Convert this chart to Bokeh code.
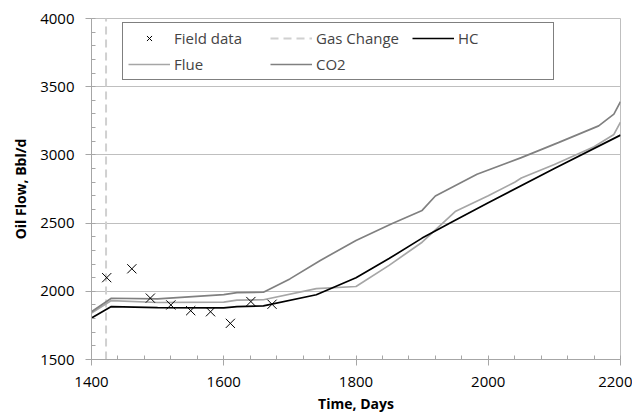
from bokeh.plotting import figure
from bokeh.models import Legend, LegendItem, SingleIntervalTicker
from bokeh.embed import file_html
from bokeh.resources import INLINE

field_x = [1423, 1461, 1489, 1520, 1550, 1580, 1610, 1641, 1673]
field_y = [2100, 2165, 1950, 1900, 1858, 1850, 1765, 1925, 1905]

hc_x = [1400, 1430, 1500, 1600, 1620, 1660, 1740, 1800, 1850, 1900, 1950, 2000, 2100, 2200]
hc_y = [1805, 1888, 1880, 1878, 1888, 1893, 1975, 2100, 2240, 2390, 2520, 2650, 2900, 3145]

flue_x = [1400, 1430, 1500, 1600, 1620, 1660, 1740, 1800, 1850, 1900, 1950, 2000, 2040, 2050, 2100, 2160, 2190, 2200]
flue_y = [1840, 1932, 1918, 1920, 1935, 1938, 2020, 2035, 2190, 2360, 2585, 2700, 2800, 2830, 2930, 3060, 3150, 3240]

co2_x = [1400, 1430, 1500, 1600, 1620, 1660, 1700, 1746, 1800, 1854, 1900, 1920, 1983, 2050, 2106, 2167, 2190, 2200]
co2_y = [1850, 1949, 1945, 1976, 1990, 1993, 2091, 2226, 2373, 2495, 2593, 2699, 2858, 2980, 3090, 3213, 3299, 3390]

gas_change_day = 1422

FONT = "Open Sans"

p = figure(width=632, height=415, x_range=(1400, 2200), y_range=(1500, 4000),
           output_backend="svg", toolbar_location=None,
           min_border_left=91, min_border_right=12, min_border_top=18, min_border_bottom=56)

p.outline_line_color = "#bfbfbf"
p.xgrid.grid_line_color = None
p.ygrid.grid_line_color = "#bfbfbf"

p.xaxis.ticker = SingleIntervalTicker(interval=200, num_minor_ticks=5)
p.yaxis.ticker = SingleIntervalTicker(interval=500, num_minor_ticks=5)
for ax in (p.xaxis[0], p.yaxis[0]):
    ax.axis_line_color = "#a6a6a6"
    ax.major_tick_line_color = "#a6a6a6"
    ax.minor_tick_line_color = "#a6a6a6"
    ax.major_tick_out = 6
    ax.major_tick_in = 0
    ax.minor_tick_in = 4
    ax.minor_tick_out = 0
    ax.major_label_text_font = FONT
    ax.major_label_text_font_size = "15px"
    ax.major_label_text_color = "#000000"
    ax.axis_label_text_font = FONT
    ax.axis_label_text_font_size = "14px"
    ax.axis_label_text_font_style = "bold"
    ax.axis_label_text_color = "#000000"
p.xaxis.axis_label = "Time, Days"
p.yaxis.axis_label = "Oil Flow, Bbl/d"
p.xaxis.major_label_standoff = 11
p.yaxis.major_label_standoff = 11
p.xaxis.axis_label_standoff = 4
p.yaxis.axis_label_standoff = 7

r_gas = p.line([gas_change_day, gas_change_day], [1500, 4000], line_color="#d0d0d0",
               line_width=2, line_dash="8 5")
r_flue = p.line(flue_x, flue_y, line_color="#a6a6a6", line_width=1.7)
r_co2 = p.line(co2_x, co2_y, line_color="#808080", line_width=1.7)
r_hc = p.line(hc_x, hc_y, line_color="#000000", line_width=1.7)
r_field = p.scatter(field_x, field_y, marker="x", size=13, line_color="#000000", line_width=1)

legend = Legend(items=[
    LegendItem(label="Field data", renderers=[r_field]),
    LegendItem(label="Gas Change", renderers=[r_gas]),
    LegendItem(label="HC", renderers=[r_hc]),
    LegendItem(label="Flue", renderers=[r_flue]),
    LegendItem(label="CO2", renderers=[r_co2]),
], location=(31, 279), orientation="horizontal", ncols=3)
legend.label_text_font = FONT
legend.label_text_font_size = "15px"
legend.border_line_color = "#000000"
legend.border_line_width = 1
legend.background_fill_color = "white"
legend.background_fill_alpha = 1
legend.glyph_width = 42
legend.glyph_height = 18
legend.label_height = 18
legend.label_width = 90
legend.label_standoff = 4
legend.spacing = 6
legend.padding = 5
legend.margin = 0
p.add_layout(legend)

open("out.html", "w").write(file_html(p, INLINE))
